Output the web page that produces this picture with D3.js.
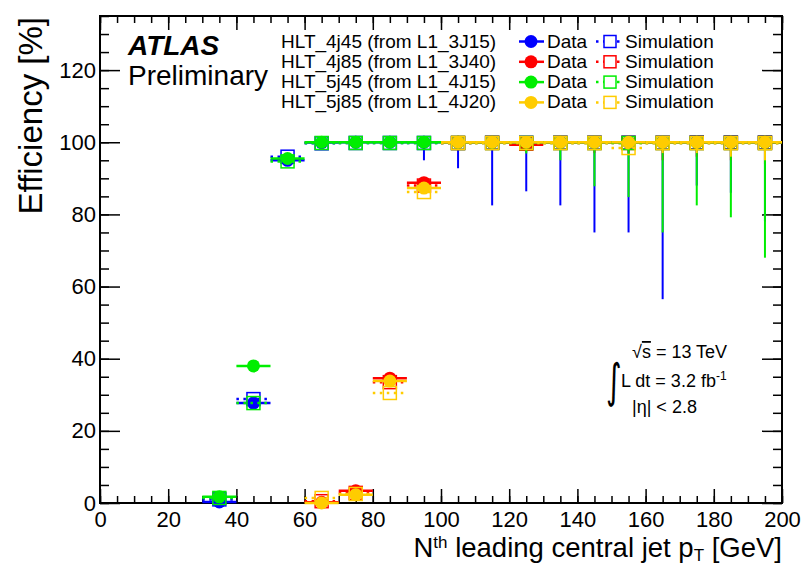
<!DOCTYPE html>
<html>
<head>
<meta charset="utf-8">
<script src="https://cdn.jsdelivr.net/npm/d3@7"></script>
<style>
  body { margin: 0; background: white; }
  text { font-family: "Liberation Sans", Arial, sans-serif; fill: black; }
</style>
</head>
<body>
<div id="chart"></div>
<script>
// bin centres in GeV (bin width 10)
let bins = [35, 45, 55, 65, 75, 85, 95, 105, 115, 125, 135, 145, 155, 165, 175, 185, 195];

let eff4j45   = [0.3, 27.7, 95.0, 99.9, 100, 100, 100, 100, 100, 100, 100, 100, 100, 100, 100, 100, 100];
let errLo4j45 = [0, 0, 0, 0, 0, 0, 5.0, 7.2, 17.5, 13.6, 17.5, 25.0, 25.0, 43.5, 12.0, 14.0, 22.0];
let sim4j45   = [1.0, 28.8, 96.0, 99.7, 99.8, 99.8, 99.8, 99.8, 99.9, 99.9, 99.9, 99.9, 99.9, 99.9, 100, 100, 100];

let eff4j85   = [null, null, null, 0.2, 3.4, 34.6, 88.8, 100, 100, 99.3, 100, 100, 100, 100, 100, 100, 100];
let errLo4j85 = [0, 0, 0, 0, 0, 0, 0, 0.5, 1.5, 1.5, 2.0, 3.0, 3.0, 5.0, 4.0, 5.0, 6.0];
let sim4j85   = [null, null, null, 0.5, 2.8, 33.5, 88.0, 99.8, 99.8, 99.6, 99.8, 99.8, 99.8, 99.8, 99.8, 99.8, 99.8];

let eff5j45   = [1.7, 38.0, 95.5, 100, 100, 100, 100, 100, 100, 100, 100, 100, 100, 100, 100, 100, 100];
let errLo5j45 = [0, 0, 0, 0, 0, 0, 1.0, 1.0, 2.0, 3.1, 5.0, 12.2, 15.2, 25.0, 17.5, 20.8, 32.0];
let sim5j45   = [1.4, 27.7, 94.7, 99.8, 99.8, 99.8, 99.8, 99.8, 99.8, 99.8, 99.8, 99.8, 99.8, 99.8, 99.8, 99.8, 99.8];

let eff5j85   = [null, null, null, 0.0, 2.3, 33.8, 87.3, 100, 100, 100, 100, 100, 100, 100, 100, 100, 100];
let errLo5j85 = [0, 0, 0, 0, 0, 0, 0, 0.3, 0.5, 0.8, 1.0, 1.5, 2.0, 3.0, 3.0, 4.0, 5.0];
let sim5j85   = [null, null, null, 1.4, 2.5, 30.5, 86.2, 99.8, 99.8, 99.8, 99.8, 99.8, 98.4, 99.8, 99.8, 99.8, 99.8];

let nomes = ["HLT_4j45 (from L1_3J15)", "HLT_4j85 (from L1_3J40)",
             "HLT_5j45 (from L1_4J15)", "HLT_5j85 (from L1_4J20)"];
let cores = ["#0000ff", "#ff0000", "#00ee00", "#ffcc00"];

let xTicks = [0, 20, 40, 60, 80, 100, 120, 140, 160, 180, 200];
let yTicks = [0, 20, 40, 60, 80, 100, 120];

let series = [
    {nome: nomes[0], cor: cores[0], eff: eff4j45, err: errLo4j45, sim: sim4j45},
    {nome: nomes[1], cor: cores[1], eff: eff4j85, err: errLo4j85, sim: sim4j85},
    {nome: nomes[2], cor: cores[2], eff: eff5j45, err: errLo5j45, sim: sim5j45},
    {nome: nomes[3], cor: cores[3], eff: eff5j85, err: errLo5j85, sim: sim5j85}
];

let larg = 807;
let alt = 564;
let canvas = d3.select("#chart")
                .append("svg")
                .attr("width", larg)
                .attr("height", alt);

let x = d3.scaleLinear().domain([0, 200]).range([100, 782]);
let y = d3.scaleLinear().domain([0, 135]).range([503, 16]);
let meia = 5;

let minorX = d3.range(0, 201, 5);
let minorY = d3.range(0, 136, 5);

// axes: ticks point inwards on all four sides
canvas.append("g")
        .attr("transform", "translate(0,503)")
        .call(d3.axisBottom(x).tickValues(xTicks).tickSize(-14).tickPadding(8))
        .call(g => g.selectAll("text").style("font-size", "22px").attr("fill", "black"));
canvas.append("g")
        .attr("transform", "translate(0,503)")
        .call(d3.axisBottom(x).tickValues(minorX).tickSize(-7).tickFormat(""));
canvas.append("g")
        .attr("transform", "translate(0,16)")
        .call(d3.axisTop(x).tickValues(xTicks).tickSize(-14).tickFormat(""));
canvas.append("g")
        .attr("transform", "translate(0,16)")
        .call(d3.axisTop(x).tickValues(minorX).tickSize(-7).tickFormat(""));
canvas.append("g")
        .attr("transform", "translate(100,0)")
        .call(d3.axisLeft(y).tickValues(yTicks).tickSize(-20).tickPadding(4))
        .call(g => g.selectAll("text").style("font-size", "22px").attr("fill", "black"));
canvas.append("g")
        .attr("transform", "translate(100,0)")
        .call(d3.axisLeft(y).tickValues(minorY).tickSize(-9).tickFormat(""));
canvas.append("g")
        .attr("transform", "translate(782,0)")
        .call(d3.axisRight(y).tickValues(yTicks).tickSize(-20).tickFormat(""));
canvas.append("g")
        .attr("transform", "translate(782,0)")
        .call(d3.axisRight(y).tickValues(minorY).tickSize(-9).tickFormat(""));

canvas.selectAll(".domain").remove();
canvas.selectAll(".tick line").attr("stroke", "black").attr("stroke-width", 1.5);

canvas.append("rect")
        .attr("x", x(0)).attr("y", y(135))
        .attr("width", x(200) - x(0)).attr("height", y(0) - y(135))
        .attr("fill", "none").attr("stroke", "black").attr("stroke-width", 2);

// points
series.forEach(s => {
    let g = canvas.append("g");
    let simPts = bins.map((b, i) => ({b: b, v: s.sim[i]})).filter(d => d.v != null);
    let dataPts = bins.map((b, i) => ({b: b, v: s.eff[i], e: s.err[i]})).filter(d => d.v != null);

    g.selectAll(".simLine").data(simPts).enter()
        .append("line")
        .attr("x1", d => x(d.b - meia)).attr("x2", d => x(d.b + meia))
        .attr("y1", d => y(d.v)).attr("y2", d => y(d.v))
        .attr("stroke", s.cor).attr("stroke-width", 2.5)
        .attr("stroke-dasharray", "2.5,4.5");
    g.selectAll(".simBox").data(simPts).enter()
        .append("rect")
        .attr("x", d => x(d.b) - 6.5).attr("y", d => y(d.v) - 6.5)
        .attr("width", 13).attr("height", 13)
        .attr("fill", "none").attr("stroke", s.cor).attr("stroke-width", 1.5);

    g.selectAll(".errV").data(dataPts.filter(d => d.e > 0)).enter()
        .append("line")
        .attr("x1", d => x(d.b)).attr("x2", d => x(d.b))
        .attr("y1", d => y(d.v)).attr("y2", d => y(d.v - d.e))
        .attr("stroke", s.cor).attr("stroke-width", 2);
    g.selectAll(".errH").data(dataPts).enter()
        .append("line")
        .attr("x1", d => x(d.b - meia)).attr("x2", d => x(d.b + meia))
        .attr("y1", d => y(d.v)).attr("y2", d => y(d.v))
        .attr("stroke", s.cor).attr("stroke-width", 2.5);
    g.selectAll("circle").data(dataPts).enter()
        .append("circle")
        .attr("cx", d => x(d.b)).attr("cy", d => y(d.v))
        .attr("r", 6.5)
        .attr("fill", s.cor);
});

// legend
let leg = canvas.append("g");
series.forEach((s, i) => {
    let base = 47.5 + i * 20.3;
    let cy = base - 6;
    leg.append("text").attr("x", 281).attr("y", base)
        .style("font-size", "19px").text(s.nome);
    leg.append("line").attr("x1", 519).attr("x2", 544).attr("y1", cy).attr("y2", cy)
        .attr("stroke", s.cor).attr("stroke-width", 2.5);
    leg.append("circle").attr("cx", 531).attr("cy", cy).attr("r", 6.5).attr("fill", s.cor);
    leg.append("text").attr("x", 547).attr("y", base)
        .style("font-size", "19px").text("Data");
    leg.append("line").attr("x1", 596).attr("x2", 622).attr("y1", cy).attr("y2", cy)
        .attr("stroke", s.cor).attr("stroke-width", 2.5).attr("stroke-dasharray", "2.5,4.5");
    leg.append("rect").attr("x", 604).attr("y", cy - 6).attr("width", 12).attr("height", 12)
        .attr("fill", "white").attr("stroke", s.cor).attr("stroke-width", 1.5);
    leg.append("text").attr("x", 625).attr("y", base)
        .style("font-size", "19px").text("Simulation");
});

canvas.append("text").attr("x", 128).attr("y", 55)
        .style("font-size", "28px").style("font-weight", "bold").style("font-style", "italic")
        .text("ATLAS");
canvas.append("text").attr("x", 128).attr("y", 85)
        .style("font-size", "28px")
        .text("Preliminary");

// energy / lumi box
let rs = canvas.append("text").attr("x", 632).attr("y", 358).style("font-size", "18px");
rs.append("tspan").text("√");
rs.append("tspan").style("text-decoration", "overline").text("s");
rs.append("tspan").text(" = 13 TeV");
canvas.append("text")
        .attr("transform", "translate(606,397) scale(1,1.55)")
        .style("font-size", "30px").style("font-family", "DejaVu Sans").style("font-weight", "normal")
        .text("∫");
let lumi = canvas.append("text").attr("x", 621).attr("y", 387).style("font-size", "18px");
lumi.append("tspan").text("L dt = 3.2 fb");
lumi.append("tspan").attr("dy", -7).style("font-size", "12px").text("-1");
canvas.append("text").attr("x", 632).attr("y", 413)
        .style("font-size", "18px").text("|η| < 2.8");

// axis titles
let xt = canvas.append("text").attr("x", 782).attr("y", 557)
        .attr("text-anchor", "end").style("font-size", "27.5px");
xt.append("tspan").text("N");
xt.append("tspan").attr("dy", -9).style("font-size", "17px").text("th");
xt.append("tspan").attr("dy", 9).text(" leading central jet p");
xt.append("tspan").attr("dy", 4).style("font-size", "17px").text("T");
xt.append("tspan").attr("dy", -4).text(" [GeV]");

canvas.append("text")
        .attr("transform", "translate(42,17) rotate(-90)")
        .attr("text-anchor", "end")
        .style("font-size", "33px")
        .text("Efficiency [%]");
</script>
</body>
</html>
